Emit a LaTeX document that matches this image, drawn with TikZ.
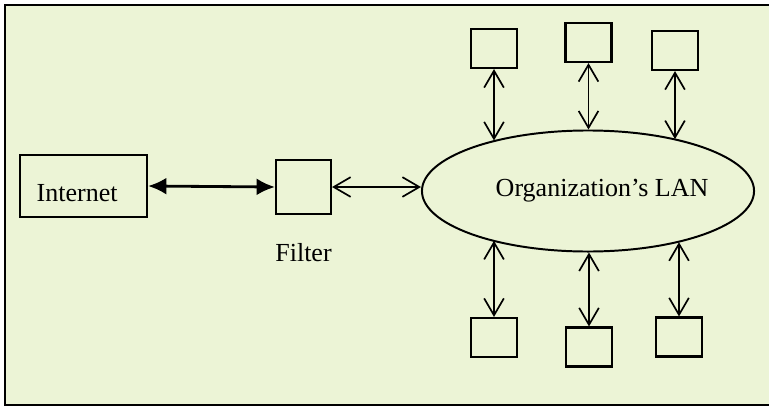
\documentclass[tikz,border=0pt]{standalone}
\usepackage{fontspec}
\setmainfont{Liberation Serif}
\usetikzlibrary{shapes.geometric,arrows.meta,positioning}
\definecolor{paper}{HTML}{ECF4D6}

\begin{document}
\begin{tikzpicture}[x=0.025cm, y=-0.025cm,
    font=\fontsize{18.5}{22}\selectfont,
    box/.style={rectangle, draw, line width=1.5pt, minimum width=1.15cm, minimum height=0.975cm},
    link/.style={line width=1.2pt, {Straight Barb[length=12pt,width=14pt]}-{Straight Barb[length=12pt,width=14pt]}},
    biglink/.style={line width=2pt, {Latex[length=13pt,width=12pt]}-{Latex[length=13pt,width=12pt]}}]

    \useasboundingbox (0,0) rectangle (769,408);
    \fill[paper] (5,5) rectangle (769,405);
    \draw[line width=1.6pt] (769,5) -- (5,5) -- (5,405) -- (769,405);

    \node[box, minimum width=3.175cm, minimum height=1.55cm,
          label={[xshift=-4.5pt, yshift=-5pt]center:Internet}] (inet) at (83.5,186) {};
    \node[box, minimum width=1.375cm, minimum height=1.35cm] (filter) at (303.5,187) {};
    \node[below=17pt of filter] (filtertxt) {Filter};
    \node[ellipse, draw, line width=1.4pt, inner sep=0pt, minimum width=8.3cm, minimum height=3.025cm,
          label={[xshift=10pt]center:Organization's LAN}] (lan) at (588,191) {};

    % hosts above and below the LAN
    \node[box] (top1) at (494,48.5) {};
    \node[box] (top2) at (588.5,42.5) {};
    \node[box] (top3) at (675,50.5) {};
    \node[box] (bot1) at (494,337.5) {};
    \node[box] (bot2) at (589,347) {};
    \node[box] (bot3) at (679,337) {};

    \draw[biglink] (inet.east) -- (filter.west);
    \draw[link] (filter.east) -- (filter.east -| lan.west);

    \draw[link] (top1.south) -- (top1.south |- lan.152.2);
    \draw[link] (top2.south) -- (top2.south |- lan.90);
    \draw[link] (top3.south) -- (top3.south |- lan.30.4);
    \draw[link] (bot1.north) -- (bot1.north |- lan.207.8);
    \draw[link] (bot2.north) -- (bot2.north |- lan.270);
    \draw[link] (bot3.north) -- (bot3.north |- lan.331.1);
\end{tikzpicture}
\end{document}
